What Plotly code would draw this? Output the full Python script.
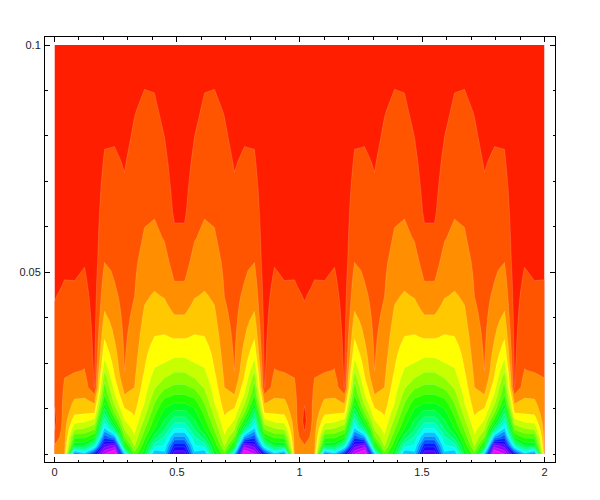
import plotly.graph_objects as go

# y positions of the rows, bottom to top
y_values = [0.01, 0.011837, 0.013673, 0.01551, 0.017347, 0.019184, 0.02102, 0.022857,
            0.024694, 0.026531, 0.028367, 0.030204, 0.032041, 0.033878, 0.035714, 0.037551,
            0.039388, 0.041224, 0.043061, 0.044898, 0.046735, 0.048571, 0.050408, 0.052245,
            0.057755, 0.06327, 0.06878, 0.07429, 0.07980, 0.08531, 0.09082, 0.09633, 0.1]

# level readings along columns; each list runs bottom to top
c0 = [2.3,2.05,1.35,.9,.7,.85,1.05,1.15,1.2,1.25,1.3,1.35,1.35,1.3,1.25,1.2,1.15,1.1,1.02,.95,.85,.8,.75,.7,.6,.55,.5,.45,.35,.25,.2,.1,.05]
c1 = [2.8,2.71,2.62,2.54,2.45,2.36,2.27,2.18,2.1,2.01,1.92,1.83,1.75,1.66,1.58,1.5,1.41,1.33,1.24,1.16,1.07,.99,.9,.85,.75,.65,.55,.45,.35,.25,.2,.1,.05]
c2 = [16.5,9.7,7.77,5.85,4.6,3.74,3.24,2.83,2.49,2.16,1.95,1.87,1.78,1.69,1.6,1.51,1.42,1.34,1.25,1.16,1.07,.98,.9,.85,.75,.65,.55,.45,.35,.25,.2,.1,.05]
c3 = [14.5,9.9,7.8,6.13,4.74,3.83,3.3,2.87,2.59,2.31,2.02,1.93,1.85,1.77,1.68,1.6,1.52,1.44,1.36,1.28,1.19,1.11,1.03,.95,.85,.75,.65,.55,.45,.35,.25,.15,.05]
c4 = [18,12.5,9.0,6.85,5.3,3.9,3.0,2.2,.95,.9,.88,.85,.82,.8,.78,.75,.72,.7,.68,.65,.62,.6,.58,.55,.5,.45,.4,.35,.3,.25,.2,.1,.05]
c5 = [22,19.5,16.7,14.3,12.5,10.8,9.1,8.08,7.43,6.73,5.91,5.2,4.7,4.28,3.9,3.61,3.32,3.02,2.84,2.67,2.5,2.33,2.16,1.99,1.77,1.55,1.33,1.1,.9,.75,.55,.35,.2]
c6 = [23.4,20.4,15.2,10.9,8.45,6.9,5.95,5.17,4.64,4.14,3.84,3.61,3.38,3.15,2.95,2.81,2.66,2.51,2.36,2.22,2.07,1.97,1.91,1.85,1.66,1.47,1.29,1.11,.93,.75,.55,.35,.2]
c7 = [14.5,9.3,7.1,5.9,5.05,4.35,3.67,3.05,2.65,2.26,1.99,1.95,1.91,1.87,1.83,1.79,1.74,1.7,1.66,1.62,1.58,1.53,1.49,1.45,1.32,1.19,1.07,.95,.8,.65,.5,.35,.2]
c8 = [7.5,5.9,5.2,4.67,4.22,3.85,3.55,3.26,2.99,2.9,2.8,2.71,2.62,2.53,2.44,2.34,2.25,2.16,2.07,1.99,1.94,1.9,1.85,1.8,1.66,1.52,1.38,1.25,1.11,.97,.75,.5,.3]
c9 = [9.6,8.7,7.73,6.9,6.2,5.6,5.05,4.77,4.52,4.27,4.02,3.88,3.75,3.62,3.5,3.37,3.24,3.11,2.98,2.87,2.76,2.65,2.54,2.42,2.08,1.87,1.69,1.52,1.34,1.17,.98,.7,.4]
c10 = [15.2,12.5,10.47,9.05,8.35,7.68,7.05,6.42,5.88,5.49,5.1,4.81,4.55,4.28,4.02,3.83,3.64,3.45,3.26,3.08,2.93,2.81,2.69,2.57,2.2,1.92,1.72,1.53,1.34,1.15,.95,.7,.4]
c11 = [14.4,13.1,12.1,10.9,10.05,9.35,8.6,7.7,6.8,6.05,5.5,4.97,4.67,4.38,4.08,3.83,3.6,3.36,3.13,2.93,2.78,2.62,2.47,2.32,1.93,1.69,1.46,1.23,1.0,.8,.6,.4,.2]
c12 = [19.8,17.7,15.2,13.1,11.6,10.25,9.1,8.1,7.23,6.5,5.86,5.28,4.78,4.34,3.93,3.57,3.21,2.9,2.65,2.39,2.14,1.94,1.79,1.64,1.19,.85,.7,.55,.4,.3,.2,.1,.05]

half_period = [c0, c1, c2, c3, c4, c5, c6, c7, c8, c9, c10, c11, c12]
one_period = half_period + half_period[:0:-1]   # the picture mirrors itself inside a period
columns = one_period + one_period               # and repeats
x_values = [i * 2 / 49 for i in range(len(columns))]
z_values = [[col[r] for col in columns] for r in range(len(y_values))]

hue_colors = ["#ff1e00", "#ff5500", "#ff8f00", "#ffc800", "#ffff00", "#c8ff00", "#8fff00",
              "#55ff00", "#1eff00", "#00ff1e", "#00ff55", "#00ff8f", "#00ffc8", "#00ffff",
              "#00c8ff", "#008fff", "#0055ff", "#001eff", "#1e00ff", "#5500ff", "#8f00ff",
              "#c800ff", "#ff00ff"]
colorscale = [[i / (len(hue_colors) - 1), c] for i, c in enumerate(hue_colors)]

fig = go.Figure(go.Contour(
    x=x_values, y=y_values, z=z_values,
    colorscale=colorscale, showscale=False, hoverinfo="skip",
    contours=dict(start=1, end=22, size=1, coloring="fill"),
    line=dict(width=0.5, color="rgba(255,255,255,0.3)", smoothing=0),
))

axis_font = dict(family="Liberation Sans", size=11, color="#222222")
common = dict(showgrid=False, zeroline=False, showline=True, linecolor="black", linewidth=1,
              mirror="allticks", ticks="inside", ticklen=5, tickwidth=1, tickcolor="black",
              tickfont=axis_font)
fig.update_layout(
    width=584, height=484, autosize=False,
    paper_bgcolor="white", plot_bgcolor="white", showlegend=False,
    margin=dict(l=36.5, r=36.5, t=29, b=30, autoexpand=False),
    xaxis=dict(range=[-0.0387, 2.0428], tick0=0, dtick=0.5,
               minor=dict(ticks="inside", dtick=0.1, tick0=0, ticklen=2.5, tickcolor="black", showgrid=False),
               **common),
    yaxis=dict(range=[0.00824, 0.10176], tick0=0, dtick=0.05, ticklabelstandoff=1,
               minor=dict(ticks="inside", dtick=0.01, tick0=0, ticklen=2.5, tickcolor="black", showgrid=False),
               **common),
)
fig.write_html("out.html")
